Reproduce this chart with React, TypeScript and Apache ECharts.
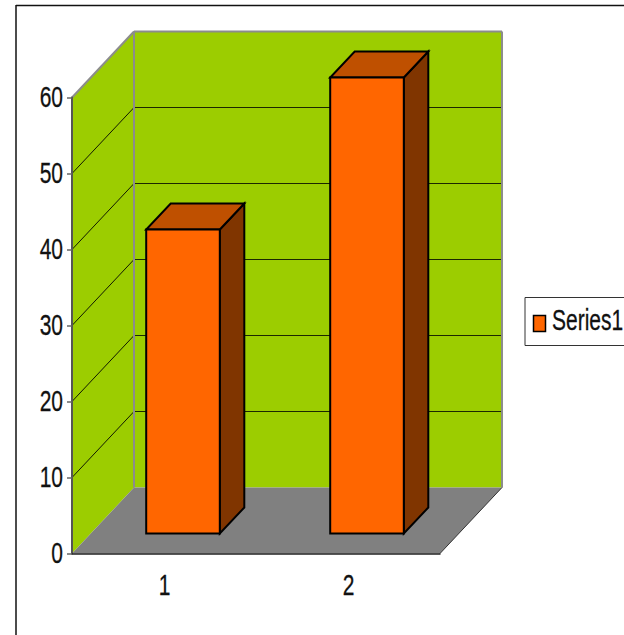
import React, { useEffect, useRef } from "react";
import * as echarts from "echarts";

const categories = ["1", "2"];
const series1Values = [40, 60];
const valueTicks = [0, 10, 20, 30, 40, 50, 60];
const seriesName = "Series1";

const WALL = "#9ccd00";
const FLOOR = "#808080";
const EDGE = "#8c8c8c";
const FRONT = "#ff6600";
const TOP = "#bf5000";
const SIDE = "#803500";
const INK = "#111111";
const FONT = "Liberation Sans";

// Oblique projection: the plot box recedes by this offset, the bars sit inside it.
const BOX_DX = 62;
const BOX_DY = -66;
const BAR_OFFSET_X = 19;
const BAR_OFFSET_Y = -20;
const BAR_DX = 24.5;
const BAR_DY = -26;
const TEXT_SCALE = 0.7;

const poly = (points: number[][], fill: string, stroke?: string, lineWidth = 0) => ({
  type: "polygon",
  shape: { points },
  style: { fill, stroke: stroke ?? "none", lineWidth, lineJoin: "miter" },
  silent: true,
});

const seg = (a: number[], b: number[], stroke: string, lineWidth: number) => ({
  type: "line",
  shape: { x1: a[0], y1: a[1], x2: b[0], y2: b[1] },
  style: { stroke, lineWidth },
  silent: true,
});

const label = (text: string, x: number, y: number, align: string) => ({
  type: "text",
  x,
  y,
  scaleX: TEXT_SCALE,
  silent: true,
  style: {
    text,
    fontFamily: FONT,
    fontSize: 30,
    fill: INK,
    stroke: INK,
    lineWidth: 0.3,
    align,
    verticalAlign: "middle",
  },
});

function renderBox(params: any, api: any) {
  const box = params.coordSys;
  const left = box.x;
  const right = box.x + box.width;
  const bottom = api.coord([0, 0])[1];
  const top = api.coord([0, 60])[1];
  const back = (x: number, y: number) => [x + BOX_DX, y + BOX_DY];

  const children: any[] = [
    poly([[left, bottom], [left, top], back(left, top), back(left, bottom)], WALL),
    poly([back(left, bottom), back(left, top), back(right, top), back(right, bottom)], WALL),
    poly([[left, bottom], back(left, bottom), back(right, bottom), [right, bottom]], FLOOR),
  ];
  valueTicks.slice(1, -1).forEach((v) => {
    const y = api.coord([0, v])[1];
    children.push(seg([left, y], back(left, y), "#111a00", 1));
    children.push(seg(back(left, y), back(right, y), "#1c2800", 1));
  });
  children.push(seg([left, top], back(left, top), EDGE, 2));
  children.push(seg(back(left, top), back(right, top), EDGE, 2));
  children.push(seg(back(left, top), back(left, bottom), EDGE, 2));
  children.push(seg(back(right, top), back(right, bottom), EDGE, 2));
  children.push(seg([right, bottom], back(right, bottom), "#333333", 1));
  return { type: "group", children };
}

function renderBar(params: any, api: any) {
  const center = api.coord([api.value(0), 0]);
  const tip = api.coord([api.value(0), api.value(1)]);
  const half = (api.size([1, 0])[0] * 0.4) / 2;
  const x0 = center[0] - half + BAR_OFFSET_X;
  const x1 = center[0] + half + BAR_OFFSET_X;
  const y0 = center[1] + BAR_OFFSET_Y;
  const y1 = tip[1] + BAR_OFFSET_Y;
  return {
    type: "group",
    children: [
      poly([[x1, y0], [x1, y1], [x1 + BAR_DX, y1 + BAR_DY], [x1 + BAR_DX, y0 + BAR_DY]], SIDE, "#000", 2),
      poly([[x0, y1], [x1, y1], [x1 + BAR_DX, y1 + BAR_DY], [x0 + BAR_DX, y1 + BAR_DY]], TOP, "#000", 2),
      poly([[x0, y0], [x1, y0], [x1, y1], [x0, y1]], FRONT, "#000", 2),
    ],
  };
}

function renderLabels(params: any, api: any) {
  const box = params.coordSys;
  const children: any[] = [];
  valueTicks.forEach((v) => {
    children.push(label(String(v), box.x - 9, api.coord([0, v])[1] - 1, "right"));
  });
  categories.forEach((c, i) => {
    children.push(label(c, api.coord([i, 0])[0] + 0.5, box.y + box.height + 31, "center"));
  });
  return { type: "group", children };
}

export default function App() {
  const ref = useRef<HTMLDivElement>(null);

  useEffect(() => {
    const chart = echarts.init(ref.current!, null, { renderer: "svg" });
    chart.setOption({
      animation: false,
      backgroundColor: "#ffffff",
      grid: { left: 72, top: 97.5, width: 368, height: 456 },
      xAxis: {
        type: "category",
        data: categories,
        z: 10,
        axisLine: { lineStyle: { color: "#222222", width: 1.5 } },
        axisTick: { length: 7, lineStyle: { color: "#666666", width: 1.5 } },
        axisLabel: { show: false },
      },
      yAxis: {
        type: "value",
        min: 0,
        max: 60,
        interval: 10,
        z: 10,
        splitLine: { show: false },
        axisLine: { show: true, lineStyle: { color: "#555555", width: 2 } },
        axisTick: { show: true, length: 5, lineStyle: { color: "#666666", width: 1.5 } },
        axisLabel: { show: false },
      },
      series: [
        { type: "custom", name: "box", z: 1, clip: false, silent: true, data: [[0, 0]], renderItem: renderBox },
        {
          type: "custom",
          name: seriesName,
          z: 2,
          clip: false,
          silent: true,
          data: series1Values.map((v, i) => [i, v]),
          encode: { x: 0, y: 1 },
          renderItem: renderBar,
        },
        { type: "custom", name: "labels", z: 12, clip: false, silent: true, data: [[0, 0]], renderItem: renderLabels },
      ],
      graphic: [
        // Outer chart-area frame, left and top edges.
        { type: "line", silent: true, shape: { x1: 16, y1: 5.5, x2: 624, y2: 5.5 }, style: { stroke: "#111", lineWidth: 1.5 } },
        { type: "line", silent: true, shape: { x1: 16, y1: 5, x2: 16, y2: 635 }, style: { stroke: "#111", lineWidth: 1.5 } },
        // Legend.
        { type: "rect", silent: true, shape: { x: 525, y: 297.5, width: 110, height: 48 }, style: { fill: "#fff", stroke: "#333", lineWidth: 1 } },
        { type: "rect", silent: true, shape: { x: 533.5, y: 315.5, width: 12, height: 16 }, style: { fill: FRONT, stroke: "#000", lineWidth: 1.5 } },
        {
          type: "text",
          silent: true,
          x: 552,
          y: 320,
          scaleX: TEXT_SCALE,
          style: { text: seriesName, fontFamily: FONT, fontSize: 30, fill: INK, stroke: INK, lineWidth: 0.3, align: "left", verticalAlign: "middle" },
        },
      ],
    });
    return () => chart.dispose();
  }, []);

  return <div ref={ref} style={{ position: "fixed", left: 0, top: 0, width: 624, height: 635 }} />;
}
